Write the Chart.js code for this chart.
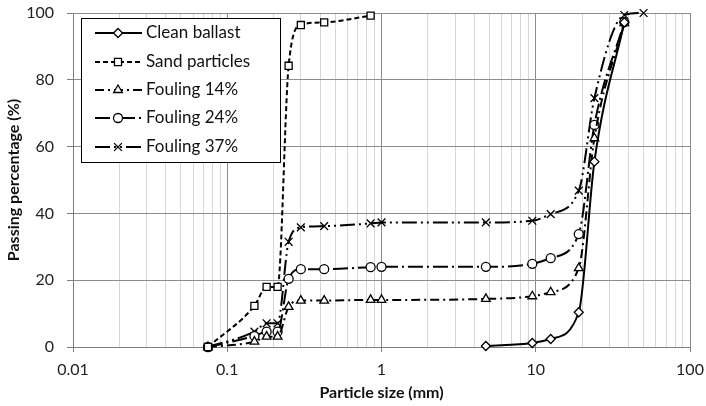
<!DOCTYPE html>
<html lang="en">
<head>
  <meta charset="UTF-8">
  <title>Particle size distribution</title>
  <script src="https://cdn.jsdelivr.net/npm/chart.js"></script>
  <style>
    body { margin: 0; background: #fff; }
    canvas { display: block; }
  </style>
</head>
<body>
  <canvas id="grafico" width="706" height="406"></canvas>

  <script>
    // sieve sizes (mm) and passing percentages
    const cleanSize = [4.75, 9.5, 12.5, 19, 24, 37.5];
    const cleanPass = [0.3, 1.2, 2.4, 10.4, 55.5, 97.2];

    const sandSize = [0.075, 0.15, 0.18, 0.212, 0.25, 0.3, 0.425, 0.85];
    const sandPass = [0, 12.3, 18, 18, 84.2, 96.4, 97.2, 99.2];

    const foulSize = [0.075, 0.15, 0.18, 0.212, 0.25, 0.3, 0.425, 0.85, 1.0, 4.75, 9.5, 12.5, 19, 24, 37.5];
    const foul14Pass = [0, 1.6, 3.1, 3.1, 12, 13.9, 13.9, 14.1, 14.1, 14.4, 15.2, 16.4, 23.6, 62.5, 97];
    const foul24Pass = [0, 3.3, 4.6, 4.6, 20.4, 23.3, 23.3, 23.9, 24, 24, 24.9, 26.6, 33.8, 66.5, 97.3];

    const foul37Size = [0.075, 0.15, 0.18, 0.212, 0.25, 0.3, 0.425, 0.85, 1.0, 4.75, 9.5, 12.5, 19, 24, 37.5, 50];
    const foul37Pass = [0, 4.6, 7.1, 7.1, 31.5, 35.8, 36.2, 37, 37.3, 37.3, 37.8, 39.8, 46.8, 74.5, 99.4, 100];

    const seriesNames = ['Clean ballast', 'Sand particles', 'Fouling 14%', 'Fouling 24%', 'Fouling 37%'];

    const xDecades = [0.01, 0.1, 1, 10, 100];
    const xDecadeLabels = ['0.01', '0.1', '1', '10', '100'];
    const yTicks = [0, 20, 40, 60, 80, 100];

    const FONT = 'Lato, "Open Sans", sans-serif';

    function pares(xs, ys) {
      return xs.map((x, i) => ({ x: x, y: ys[i] }));
    }

    function isDecade(v) {
      const l = Math.log10(v);
      return Math.abs(l - Math.round(l)) < 1e-6;
    }

    const estilos = [
      { dash: [], point: 'rectRot', r: 4.5 },
      { dash: [5, 3], point: 'rect', r: 5 },
      { dash: [9, 4, 2, 4], point: 'triangle', r: 5 },
      { dash: [15, 4, 2, 4], point: 'circle', r: 4.5 },
      { dash: [15, 4, 2, 4, 2, 4], point: 'crossRot', r: 5.5 }
    ];

    const dadosSeries = [
      pares(cleanSize, cleanPass),
      pares(sandSize, sandPass),
      pares(foulSize, foul14Pass),
      pares(foulSize, foul24Pass),
      pares(foul37Size, foul37Pass)
    ];

    const datasets = dadosSeries.map((d, i) => ({
      label: seriesNames[i],
      data: d,
      showLine: true,
      clip: false,
      borderColor: '#000',
      borderWidth: 2,
      borderDash: estilos[i].dash,
      cubicInterpolationMode: 'monotone',
      pointStyle: estilos[i].point,
      pointRadius: estilos[i].r,
      pointBorderWidth: 1.3,
      pointBorderColor: '#000',
      pointBackgroundColor: '#fff'
    }));

    // legend drawn by hand so it can show dash pattern + marker together
    const legendaCaixa = {
      id: 'legendaCaixa',
      afterDraw(chart) {
        const ctx = chart.ctx;
        ctx.save();
        ctx.fillStyle = '#fff';
        ctx.fillRect(81, 18, 199, 144);
        ctx.strokeStyle = '#000';
        ctx.lineWidth = 1;
        ctx.strokeRect(81.5, 18.5, 199, 144);
        const linhas = [33, 62, 90, 118, 147];
        seriesNames.forEach((nome, i) => {
          const y = linhas[i];
          ctx.strokeStyle = '#000';
          ctx.lineWidth = 2;
          ctx.setLineDash(estilos[i].dash);
          ctx.beginPath();
          ctx.moveTo(95, y);
          ctx.lineTo(142, y);
          ctx.stroke();
          ctx.setLineDash([]);
          ctx.fillStyle = '#fff';
          ctx.strokeStyle = '#000';
          ctx.lineWidth = 1.3;
          Chart.helpers.drawPoint(ctx, {
            pointStyle: estilos[i].point,
            radius: estilos[i].r,
            borderWidth: 1.3,
            rotation: 0
          }, 118, y);
          ctx.fillStyle = '#111';
          ctx.font = '17px ' + FONT;
          ctx.textBaseline = 'middle';
          ctx.textAlign = 'left';
          ctx.fillText(nome, 146, y);
        });
        ctx.restore();
      }
    };

    const ctx = document.getElementById('grafico').getContext('2d');
    const chart = new Chart(ctx, {
      type: 'scatter',
      data: { datasets: datasets },
      plugins: [legendaCaixa],
      options: {
        responsive: false,
        animation: false,
        devicePixelRatio: 1,
        layout: { padding: { left: 0, top: 13, right: 16, bottom: 0 } },
        plugins: {
          legend: { display: false },
          tooltip: { enabled: false }
        },
        scales: {
          x: {
            type: 'logarithmic',
            min: 0.01,
            max: 100,
            afterBuildTicks(scale) {
              const vals = [];
              for (let d = 0; d < xDecades.length - 1; d++) {
                for (let k = 1; k < 10; k++) vals.push(xDecades[d] * k);
              }
              vals.push(xDecades[xDecades.length - 1]);
              scale.ticks = vals.map(v => ({ value: v }));
            },
            afterFit(scale) {
              scale.height = 59;
              scale.paddingLeft = 0;
              scale.paddingRight = 0;
            },
            ticks: {
              autoSkip: false,
              maxRotation: 0,
              padding: 8,
              color: '#222',
              font: { family: FONT, size: 16 },
              callback(v) {
                const i = xDecades.findIndex(d => Math.abs(d - v) / d < 1e-6);
                return i >= 0 ? xDecadeLabels[i] : '';
              }
            },
            grid: {
              color: c => (c.tick && isDecade(c.tick.value)) ? '#8c8c8c' : '#d6d6d6',
              tickColor: c => (c.tick && isDecade(c.tick.value)) ? '#7f7f7f' : 'rgba(0,0,0,0)',
              tickLength: 5,
              lineWidth: 1
            },
            border: { color: '#7f7f7f', width: 1 },
            title: {
              display: true,
              text: 'Particle size (mm)',
              color: '#111',
              font: { family: FONT, size: 16, weight: 'bold' },
              padding: { top: 0, bottom: 4 }
            }
          },
          y: {
            min: 0,
            max: 100,
            afterBuildTicks(scale) {
              scale.ticks = yTicks.map(v => ({ value: v }));
            },
            afterFit(scale) {
              scale.width = 73;
              scale.paddingTop = 0;
              scale.paddingBottom = 0;
            },
            ticks: {
              padding: 13,
              color: '#222',
              font: { family: FONT, size: 16 }
            },
            grid: {
              color: '#8c8c8c',
              tickColor: '#7f7f7f',
              tickLength: 6,
              lineWidth: 1
            },
            border: { color: '#7f7f7f', width: 1 },
            title: {
              display: true,
              text: 'Passing percentage (%)',
              color: '#111',
              font: { family: FONT, size: 16, weight: 'bold' },
              padding: { top: 4, bottom: 0 }
            }
          }
        }
      }
    });
  </script>
</body>
</html>
